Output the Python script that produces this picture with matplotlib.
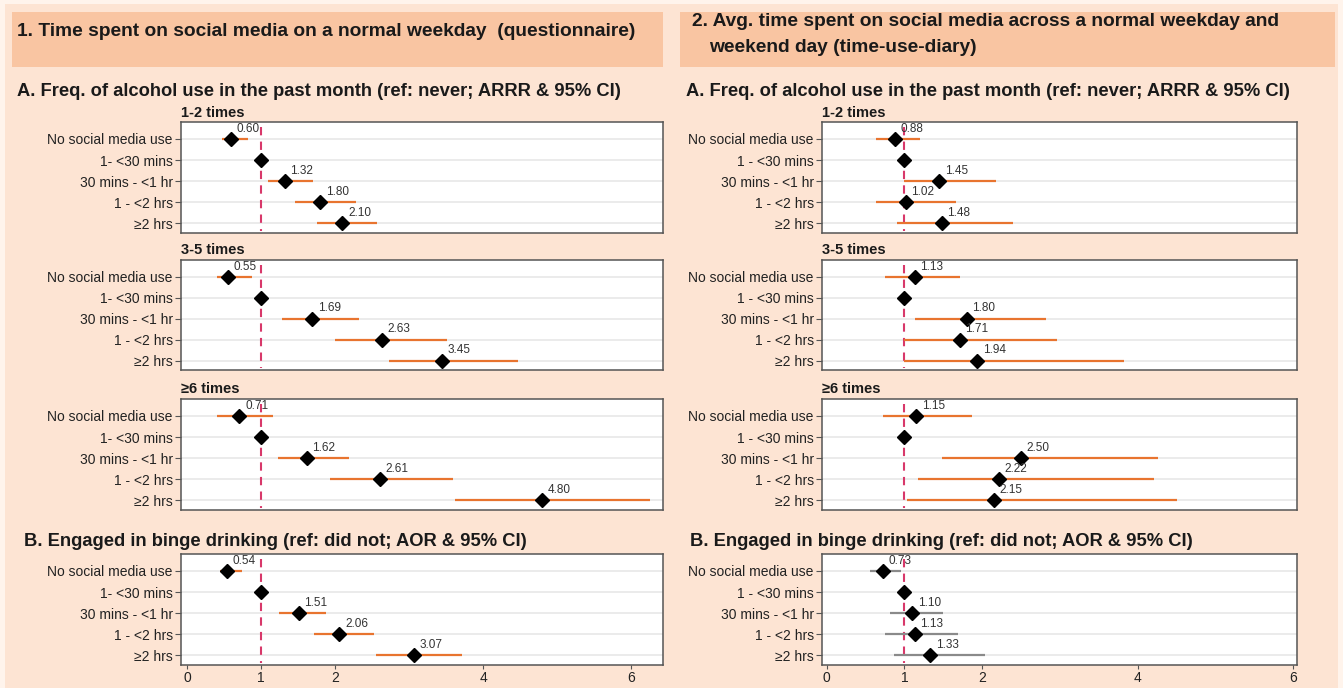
import numpy as np
import matplotlib
matplotlib.use("Agg")
import matplotlib.pyplot as plt
from matplotlib.patches import Rectangle

plt.rcParams['font.family'] = ['Liberation Sans', 'DejaVu Sans']

nan = np.nan

# row labels
labels_q = ["No social media use", "1- <30 mins", "30 mins - <1 hr", "1 - <2 hrs", "\u22652 hrs"]
labels_d = ["No social media use", "1 - <30 mins", "30 mins - <1 hr", "1 - <2 hrs", "\u22652 hrs"]
xticks = [0, 1, 2, 4, 6]

# 1. questionnaire (left column)
q12_est = [0.60, 1, 1.32, 1.80, 2.10]
q12_lo = [0.47, nan, 1.09, 1.46, 1.76]
q12_hi = [0.82, nan, 1.70, 2.28, 2.57]

q35_est = [0.55, 1, 1.69, 2.63, 3.45]
q35_lo = [0.41, nan, 1.28, 2.00, 2.73]
q35_hi = [0.88, nan, 2.32, 3.51, 4.47]

q6_est = [0.71, 1, 1.62, 2.61, 4.80]
q6_lo = [0.41, nan, 1.23, 1.93, 3.62]
q6_hi = [1.16, nan, 2.19, 3.60, 6.26]

qb_est = [0.54, 1, 1.51, 2.06, 3.07]
qb_lo = [0.44, nan, 1.25, 1.72, 2.56]
qb_hi = [0.74, nan, 1.88, 2.52, 3.71]

# 2. time-use-diary (right column)
d12_est = [0.88, 1, 1.45, 1.02, 1.48]
d12_lo = [0.64, nan, 0.99, 0.63, 0.90]
d12_hi = [1.20, nan, 2.18, 1.67, 2.40]

d35_est = [1.13, 1, 1.80, 1.71, 1.94]
d35_lo = [0.75, nan, 1.13, 0.99, 1.00]
d35_hi = [1.71, nan, 2.82, 2.96, 3.82]

d6_est = [1.15, 1, 2.50, 2.22, 2.15]
d6_lo = [0.73, nan, 1.48, 1.17, 1.03]
d6_hi = [1.87, nan, 4.26, 4.21, 4.50]

db_est = [0.73, 1, 1.10, 1.13, 1.33]
db_lo = [0.56, nan, 0.81, 0.75, 0.86]
db_hi = [0.96, nan, 1.50, 1.69, 2.04]

W, H = 1343, 688
BG = '#fde4d3'
HEAD = '#f9c5a2'
ORANGE = '#e8742f'
GREY = '#8a8a8a'
REF = '#d8386a'

fig = plt.figure(figsize=(W / 100, H / 100), dpi=100)
fig.patch.set_facecolor('#fff4ec')
fig.patches.append(Rectangle((5 / W, 0), 1333 / W, 684 / H, transform=fig.transFigure,
                             facecolor=BG, edgecolor='none', zorder=-2))


def px_axes(x0, x1, y0, y1):
    return fig.add_axes([x0 / W, 1 - y1 / H, (x1 - x0) / W, (y1 - y0) / H])


def forest(ax, labels, est, lo, hi, xlim, ci_color, bottom=False):
    rows = np.arange(1, len(labels) + 1)
    ax.set_facecolor('white')
    for r in rows:
        ax.axhline(r, color='#e8e8e8', lw=1.2, zorder=0)
    ax.vlines(1, 0.45, 5.35, colors=REF, linestyles=(0, (4, 3)), lw=1.5, zorder=1)
    ax.hlines(rows, lo, hi, colors=ci_color, lw=1.6, zorder=2)
    ax.plot(est, rows, 'D', color='black', ms=7, zorder=3)
    for r, e, l in zip(rows, est, lo):
        if not np.isnan(l):
            ax.annotate(f"{e:.2f}", (e, r), xytext=(4, 3), textcoords='offset points',
                        fontsize=8.5, color='#333333', ha='left', va='bottom')
    ax.set_xlim(*xlim)
    ax.set_ylim(5.45, 0.2)
    ax.set_yticks(rows)
    ax.set_yticklabels(labels, fontsize=10, color='#222222')
    ax.tick_params(axis='y', length=4, width=0.8, color='#555555', pad=2)
    ax.set_xticks(xticks)
    if bottom:
        ax.tick_params(axis='x', length=3, width=0.8, color='#555555', labelsize=10,
                       labelcolor='#222222', pad=1.5)
    else:
        ax.tick_params(axis='x', bottom=False, labelbottom=False)
    for s in ax.spines.values():
        s.set_color('#555555')
        s.set_linewidth(1.1)


# header boxes
fig.patches.append(Rectangle((12 / W, 1 - 67 / H), 651 / W, 55 / H, transform=fig.transFigure,
                             facecolor=HEAD, edgecolor='none', zorder=-1))
fig.patches.append(Rectangle((680 / W, 1 - 67 / H), 655 / W, 55 / H, transform=fig.transFigure,
                             facecolor=HEAD, edgecolor='none', zorder=-1))
fig.text(17 / W, 1 - 32 / H, "1. Time spent on social media on a normal weekday  (questionnaire)",
         fontsize=13.8, fontweight='bold', color='#1a1a1a', va='center')
fig.text(692 / W, 1 - 22 / H, "2. Avg. time spent on social media across a normal weekday and",
         fontsize=13.8, fontweight='bold', color='#1a1a1a', va='center')
fig.text(709 / W, 1 - 47 / H, "weekend day (time-use-diary)",
         fontsize=13.8, fontweight='bold', color='#1a1a1a', va='center')

title_a = "A. Freq. of alcohol use in the past month (ref: never; ARRR & 95% CI)"
title_b = "B. Engaged in binge drinking (ref: did not; AOR & 95% CI)"
fig.text(17 / W, 1 - 92 / H, title_a, fontsize=13.2, fontweight='bold', color='#1a1a1a', va='center')
fig.text(686 / W, 1 - 92 / H, title_a, fontsize=13.2, fontweight='bold', color='#1a1a1a', va='center')
fig.text(24 / W, 1 - 541 / H, title_b, fontsize=13.2, fontweight='bold', color='#1a1a1a', va='center')
fig.text(690 / W, 1 - 541 / H, title_b, fontsize=13.2, fontweight='bold', color='#1a1a1a', va='center')

sub_titles = ["1-2 times", "3-5 times", "\u22656 times"]
bands = [(122, 233), (260, 370), (399, 510)]
sub_y = [113, 250, 389]

left_x = (181, 663)
right_x = (822, 1297)
xlim_q = (-0.08, 6.43)
xlim_d = (-0.06, 6.05)

q_sets = [(q12_est, q12_lo, q12_hi), (q35_est, q35_lo, q35_hi), (q6_est, q6_lo, q6_hi)]
d_sets = [(d12_est, d12_lo, d12_hi), (d35_est, d35_lo, d35_hi), (d6_est, d6_lo, d6_hi)]

for (y0, y1), st, sy, qs, ds in zip(bands, sub_titles, sub_y, q_sets, d_sets):
    ax = px_axes(left_x[0], left_x[1], y0, y1)
    forest(ax, labels_q, *qs, xlim_q, ORANGE)
    fig.text(left_x[0] / W, 1 - sy / H, st, fontsize=10.5, fontweight='bold', color='#1a1a1a', va='center')
    ax = px_axes(right_x[0], right_x[1], y0, y1)
    forest(ax, labels_d, *ds, xlim_d, ORANGE)
    fig.text(right_x[0] / W, 1 - sy / H, st, fontsize=10.5, fontweight='bold', color='#1a1a1a', va='center')

ax = px_axes(left_x[0], left_x[1], 554, 665)
forest(ax, labels_q, qb_est, qb_lo, qb_hi, xlim_q, ORANGE, bottom=True)
ax = px_axes(right_x[0], right_x[1], 554, 665)
forest(ax, labels_d, db_est, db_lo, db_hi, xlim_d, GREY, bottom=True)

fig.savefig("out.png", dpi=100, facecolor=fig.get_facecolor())
